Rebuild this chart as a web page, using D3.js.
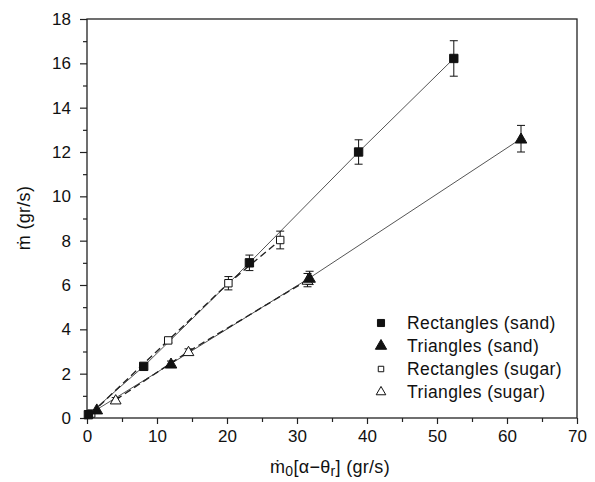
<!DOCTYPE html>
<html>
<head>
<meta charset="utf-8">
<script src="https://cdn.jsdelivr.net/npm/d3@7"></script>
<style>
  body { margin: 0; background: #fff; }
  text { font-family: "Liberation Sans", Arial, sans-serif; }
</style>
</head>
<body>
<div id="chart"></div>
<script>
// data: [x, y, error]
const rectSand = [[0.2, 0.15, 0], [8.1, 2.33, 0], [23.2, 7.0, 0.35], [38.8, 12.0, 0.55], [52.4, 16.22, 0.8]];
const triSand = [[1.4, 0.38, 0], [12.0, 2.45, 0.12], [31.8, 6.32, 0.3], [62.0, 12.6, 0.6]];
const rectSugar = [[0.6, 0.2, 0], [11.6, 3.5, 0.1], [20.2, 6.08, 0.3], [27.6, 8.03, 0.4]];
const triSugar = [[4.1, 0.82, 0.1], [14.5, 3.0, 0.12], [31.5, 6.22, 0.3]];

const xTicks = [0, 10, 20, 30, 40, 50, 60, 70];
const yTicks = [0, 2, 4, 6, 8, 10, 12, 14, 16, 18];
const legendLabels = ["Rectangles (sand)", "Triangles (sand)", "Rectangles (sugar)", "Triangles (sugar)"];

const width = 595, height = 482;
const margin = { left: 87, right: 18, top: 19, bottom: 64 };
const w = width - margin.left - margin.right;
const h = height - margin.top - margin.bottom;

const svg = d3.select("#chart").append("svg")
    .attr("width", width)
    .attr("height", height);

const g = svg.append("g")
    .attr("transform", `translate(${margin.left},${margin.top})`);

const x = d3.scaleLinear().domain([0, 70]).range([0, w]);
const y = d3.scaleLinear().domain([0, 18]).range([h, 0]);

// frame
g.append("rect")
    .attr("x", 0).attr("y", 0)
    .attr("width", w).attr("height", h)
    .attr("fill", "none")
    .attr("stroke", "#222")
    .attr("stroke-width", 1.3);

// axes
const xAxis = g.append("g")
    .attr("transform", `translate(0,${h})`)
    .call(d3.axisBottom(x).tickValues(xTicks).tickSize(6).tickPadding(6));
const xMinor = g.append("g")
    .attr("transform", `translate(0,${h})`)
    .call(d3.axisBottom(x).tickValues(d3.range(5, 70, 10)).tickSize(4).tickFormat(""));
const yAxis = g.append("g")
    .call(d3.axisLeft(y).tickValues(yTicks).tickSize(7).tickPadding(9));
const yMinor = g.append("g")
    .call(d3.axisLeft(y).tickValues(d3.range(1, 18, 2)).tickSize(4).tickFormat(""));

[xAxis, xMinor, yAxis, yMinor].forEach((a) => {
    a.select(".domain").remove();
    a.selectAll("line").attr("stroke", "#222").attr("stroke-width", 1.2);
    a.selectAll("text").attr("font-size", 17).attr("fill", "#111");
});

// lines
const line = d3.line().x((d) => x(d[0])).y((d) => y(d[1]));

g.append("path").datum(rectSand).attr("d", line)
    .attr("fill", "none").attr("stroke", "#555").attr("stroke-width", 1);
g.append("path").datum(triSand).attr("d", line)
    .attr("fill", "none").attr("stroke", "#555").attr("stroke-width", 1);
g.append("path").datum(rectSugar).attr("d", line)
    .attr("fill", "none").attr("stroke", "#222").attr("stroke-width", 1.4)
    .attr("stroke-dasharray", "7,4");
g.append("path").datum(triSugar).attr("d", line)
    .attr("fill", "none").attr("stroke", "#222").attr("stroke-width", 1.4)
    .attr("stroke-dasharray", "7,4");

// error bars
function errorBars(data) {
    const eb = g.append("g").attr("stroke", "#111").attr("stroke-width", 1);
    data.filter((d) => d[2] > 0).forEach((d) => {
        const cx = x(d[0]);
        eb.append("line").attr("x1", cx).attr("x2", cx)
            .attr("y1", y(d[1] - d[2])).attr("y2", y(d[1] + d[2]));
        [d[1] - d[2], d[1] + d[2]].forEach((v) => {
            eb.append("line").attr("x1", cx - 4).attr("x2", cx + 4)
                .attr("y1", y(v)).attr("y2", y(v));
        });
    });
}
[rectSand, triSand, rectSugar, triSugar].forEach(errorBars);

// markers
const symSquare = d3.symbol().type(d3.symbolSquare);
const symTri = d3.symbol().type(d3.symbolTriangle);

function drawMarkers(data, sym, size, filled) {
    g.selectAll(null)
        .data(data)
        .enter()
        .append("path")
        .attr("d", sym.size(size)())
        .attr("transform", (d) => `translate(${x(d[0])},${y(d[1]) + (sym === symTri ? 1 : 0)})`)
        .attr("fill", filled ? "#111" : "#fff")
        .attr("stroke", "#111")
        .attr("stroke-width", 1);
}
drawMarkers(rectSugar, symSquare, 55, false);
drawMarkers(triSugar, symTri, 50, false);
drawMarkers(rectSand, symSquare, 70, true);
drawMarkers(triSand, symTri, 58, true);

// legend
const legend = g.append("g");
const legendSyms = [[symSquare, 50, true], [symTri, 55, true], [symSquare, 30, false], [symTri, 40, false]];
legendLabels.forEach((label, i) => {
    const ly = 304 + i * 23;
    const s = legendSyms[i];
    legend.append("path")
        .attr("d", s[0].size(s[1])())
        .attr("transform", `translate(294,${ly})`)
        .attr("fill", s[2] ? "#111" : "#fff")
        .attr("stroke", "#111")
        .attr("stroke-width", 1);
    legend.append("text")
        .attr("x", 320).attr("y", ly)
        .attr("dy", "0.35em")
        .attr("font-size", 17.5)
        .attr("letter-spacing", 0.4)
        .attr("fill", "#111")
        .text(label);
});

// axis titles
const xt = svg.append("text")
    .attr("x", 330).attr("y", 473)
    .attr("text-anchor", "middle")
    .attr("font-size", 18)
    .attr("letter-spacing", 0.3)
    .attr("fill", "#111");
xt.append("tspan").text("\u1E41");
xt.append("tspan").attr("font-size", 14).attr("dy", 3).text("0");
xt.append("tspan").attr("dy", -3).text("[\u03B1\u2212\u03B8");
xt.append("tspan").attr("font-size", 14).attr("dy", 3).text("r");
xt.append("tspan").attr("dy", -3).text("] (gr/s)");

svg.append("text")
    .attr("transform", "translate(30,218) rotate(-90)")
    .attr("text-anchor", "middle")
    .attr("font-size", 18)
    .attr("letter-spacing", 0.3)
    .attr("fill", "#111")
    .text("\u1E41 (gr/s)");
</script>
</body>
</html>
